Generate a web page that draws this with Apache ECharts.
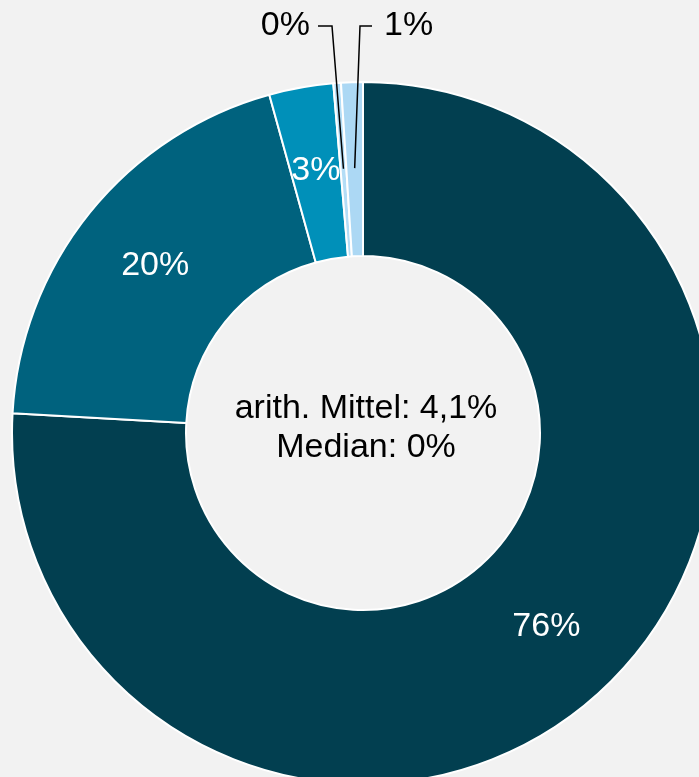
<!DOCTYPE html>
<html>
<head>
<meta charset="utf-8">
<style>
html,body{margin:0;padding:0;background:#f2f2f2;}
#chart{width:699px;height:777px;}
</style>
<script src="https://cdn.jsdelivr.net/npm/echarts@6/dist/echarts.min.js"></script>
</head>
<body>
<div id="chart"></div>
<script>
const categories = ['A', 'B', 'C', 'D', 'E'];
const values = [75.9, 19.8, 2.95, 0.35, 1.0];
const colors = ['#023f50', '#00627e', '#0090b9', '#b3ddf6', '#acd8f4'];
const insideLabels = [true, true, true, false, false];
const centerLines = ['arith. Mittel: 4,1%', 'Median: 0%'];

const FONT = '"Liberation Sans", Arial, sans-serif';
const FS = 34;
const chart = echarts.init(document.getElementById('chart'));
const center = [363, 433];

const mainData = categories.map((c, i) => ({
  name: c, value: values[i],
  itemStyle: { color: colors[i] },
  label: { show: insideLabels[i] }
}));
const guideData = categories.map((c, i) => ({
  name: c, value: values[i],
  label: { show: !insideLabels[i] },
  labelLine: { show: !insideLabels[i] }
}));

// outside label placement (annotation positions, not data)
const outsideLabelPos = {
  3: { textX: 310, lineEnd: 318, bend: 332, y: 26, align: 'right' },
  4: { textX: 384, lineEnd: 372, bend: 360, y: 26, align: 'left' }
};

chart.setOption({
  backgroundColor: '#f2f2f2',
  animation: false,
  title: {
    text: centerLines.join('\n'),
    left: 366,
    top: 389,
    textAlign: 'center',
    textStyle: {
      fontFamily: FONT,
      fontSize: FS,
      fontWeight: 'normal',
      lineHeight: 39,
      color: '#000000'
    },
    padding: 0
  },
  series: [
    {
      type: 'pie',
      center: center,
      radius: [177, 351],
      startAngle: 90,
      clockwise: true,
      avoidLabelOverlap: false,
      silent: true,
      itemStyle: { borderColor: '#ffffff', borderWidth: 2 },
      label: {
        position: 'inside',
        color: '#ffffff',
        fontFamily: FONT,
        fontSize: FS,
        formatter: p => Math.round(p.value) + '%'
      },
      labelLine: { show: false },
      data: mainData
    },
    {
      type: 'pie',
      center: center,
      radius: [0, 265],
      startAngle: 90,
      clockwise: true,
      avoidLabelOverlap: false,
      silent: true,
      z: 5,
      itemStyle: { color: 'rgba(0,0,0,0)', borderWidth: 0 },
      label: {
        position: 'outside',
        color: '#000000',
        fontFamily: FONT,
        fontSize: FS,
        formatter: p => Math.round(p.value) + '%'
      },
      labelLine: { show: true, length: 20, length2: 12, lineStyle: { color: '#000000', width: 1.5 } },
      labelLayout: function (p) {
        const cfg = outsideLabelPos[p.dataIndex];
        if (!cfg || !p.labelLinePoints) return {};
        const start = p.labelLinePoints[0];
        return {
          x: cfg.textX, y: cfg.y, align: cfg.align, verticalAlign: 'middle',
          labelLinePoints: [start, [cfg.bend, cfg.y], [cfg.lineEnd, cfg.y]]
        };
      },
      data: guideData
    }
  ]
});
</script>
</body>
</html>
